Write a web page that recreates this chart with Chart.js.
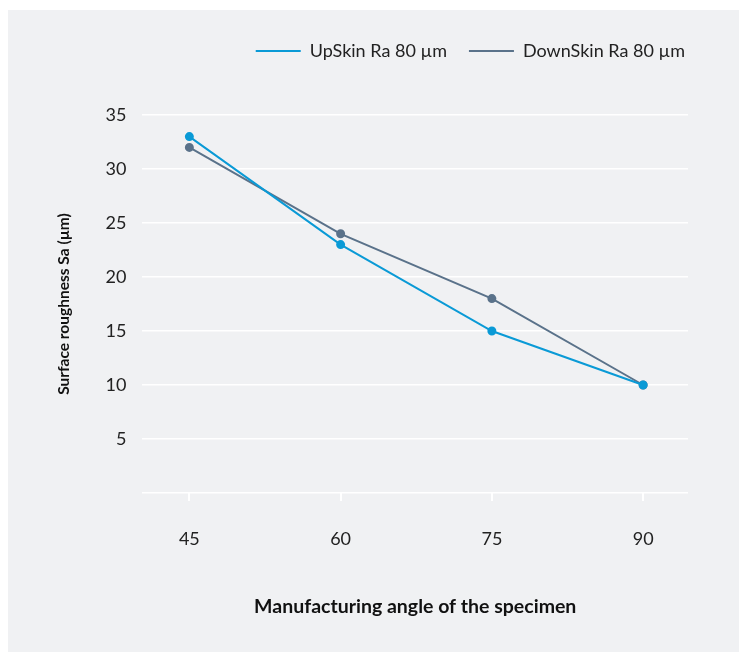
<!DOCTYPE html>
<html>
<head>
<meta charset="utf-8">
<script src="https://cdn.jsdelivr.net/npm/chart.js@4"></script>
<style>
  html, body { margin: 0; padding: 0; background: #ffffff; }
  #wrap { width: 739px; height: 652px; position: relative; }
</style>
</head>
<body>
<div id="wrap"><canvas id="chart" width="739" height="652"></canvas></div>
<script>
const angles = [45, 60, 75, 90];
const upSkin = [33, 23, 15, 10];
const downSkin = [32, 24, 18, 10];
const seriesNames = ['UpSkin Ra 80 µm', 'DownSkin Ra 80 µm'];

const panelBg = {
    id: 'panelBg',
    beforeDraw(chart) {
        const ctx = chart.ctx;
        ctx.save();
        ctx.fillStyle = '#f0f1f3';
        ctx.fillRect(8, 10, chart.width - 8, chart.height - 10);
        ctx.restore();
    }
};

// extra room under the legend, and push it a bit to the right
const legendSpace = {
    id: 'legendSpace',
    beforeInit(chart) {
        const origFit = chart.legend.fit;
        chart.legend.fit = function () {
            origFit.bind(chart.legend)();
            this.height += 45;
        };
    },
    afterLayout(chart) {
        chart.legend.left += 19;
        chart.legend.right += 19;
    }
};

const fontFamily = 'Lato, "Open Sans", sans-serif';

const ctx = document.getElementById('chart').getContext('2d');
new Chart(ctx, {
    type: 'line',
    data: {
        datasets: [{
            label: seriesNames[0],
            data: angles.map((a, i) => ({ x: a, y: upSkin[i] })),
            borderColor: '#0a9ad6',
            backgroundColor: '#0a9ad6',
            borderWidth: 2,
            pointRadius: 3.5,
            pointHoverRadius: 3.5,
            tension: 0
        }, {
            label: seriesNames[1],
            data: angles.map((a, i) => ({ x: a, y: downSkin[i] })),
            borderColor: '#5a728a',
            backgroundColor: '#5a728a',
            borderWidth: 2,
            pointRadius: 3.5,
            pointHoverRadius: 3.5,
            tension: 0
        }]
    },
    options: {
        responsive: false,
        animation: false,
        layout: {
            padding: { left: 51, right: 51, top: 20, bottom: 30 }
        },
        plugins: {
            legend: {
                position: 'top',
                align: 'end',
                labels: {
                    usePointStyle: true,
                    pointStyle: 'line',
                    pointStyleWidth: 45,
                    padding: 22,
                    color: '#222',
                    font: { family: fontFamily, size: 18 }
                }
            },
            tooltip: { enabled: false }
        },
        scales: {
            x: {
                type: 'linear',
                min: 40.35,
                max: 94.45,
                afterBuildTicks: axis => {
                    axis.ticks = angles.map(v => ({ value: v }));
                },
                grid: {
                    drawOnChartArea: false,
                    drawTicks: true,
                    tickLength: 8,
                    color: '#ffffff',
                    lineWidth: 2
                },
                border: { display: false },
                ticks: {
                    color: '#222',
                    padding: 27,
                    font: { family: fontFamily, size: 18 }
                },
                title: {
                    display: true,
                    text: 'Manufacturing angle of the specimen',
                    color: '#111',
                    padding: { top: 18 },
                    font: { family: fontFamily, size: 19.5, weight: 'bold' }
                }
            },
            y: {
                min: 0,
                max: 35,
                ticks: {
                    stepSize: 5,
                    color: '#222',
                    padding: 16,
                    font: { family: fontFamily, size: 18 },
                    callback: v => (v === 0 ? '' : v)
                },
                grid: {
                    color: '#ffffff',
                    lineWidth: 1.5,
                    drawTicks: false
                },
                border: { display: false },
                title: {
                    display: true,
                    text: 'Surface roughness Sa (µm)',
                    color: '#111',
                    padding: { bottom: 16 },
                    font: { family: fontFamily, size: 15.5, weight: 'bold' }
                }
            }
        }
    },
    plugins: [panelBg, legendSpace]
});
</script>
</body>
</html>
